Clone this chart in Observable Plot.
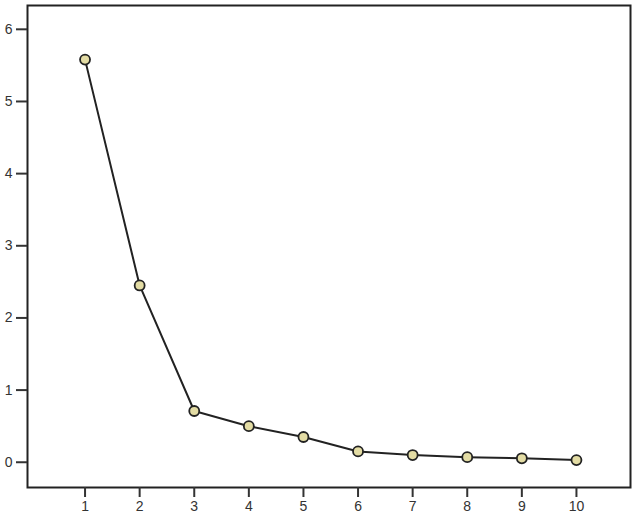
<!DOCTYPE html>
<html><head><meta charset="utf-8">
<script src="https://cdn.jsdelivr.net/npm/d3@7"></script>
<script src="https://cdn.jsdelivr.net/npm/@observablehq/plot@0.6"></script>
<style>body{margin:0;background:#fff;overflow:hidden}</style>
</head><body><div id="chart"></div>
<script>
const components = [1,2,3,4,5,6,7,8,9,10];
const eigenvalues = [5.58,2.45,0.71,0.50,0.35,0.15,0.10,0.07,0.055,0.03];
const xTicks = [1,2,3,4,5,6,7,8,9,10];
const yTicks = [0,1,2,3,4,5,6];
const data = components.map((c,i)=>({c, v: eigenvalues[i]}));
const chart = Plot.plot({
  width: 640, height: 515,
  marginLeft: 27, marginRight: 10, marginTop: 5, marginBottom: 28,
  style: {fontFamily: "Liberation Sans, Arial, sans-serif", fontSize: "14px", color: "#333", background: "#fff"},
  x: {domain: [-0.054, 10.99], label: null},
  y: {domain: [-0.35, 6.33], label: null},
  marks: [
    Plot.frame({stroke: "#222", strokeWidth: 2}),
    Plot.axisX({ticks: xTicks, tickFormat: d3.format("d"), tickSize: 10, tickPadding: 4, strokeWidth: 2, stroke: "#333", label: null, fontSize: 14}),
    Plot.axisY({ticks: yTicks, tickFormat: d3.format("d"), tickSize: 11, tickPadding: 4, strokeWidth: 2, stroke: "#333", label: null, fontSize: 14}),
    Plot.line(data, {x: "c", y: "v", stroke: "#222", strokeWidth: 2}),
    Plot.dot(data, {x: "c", y: "v", r: 5, fill: "#e3dca4", stroke: "#222", strokeWidth: 1.8})
  ]
});
document.getElementById("chart").appendChild(chart);
</script></body></html>
